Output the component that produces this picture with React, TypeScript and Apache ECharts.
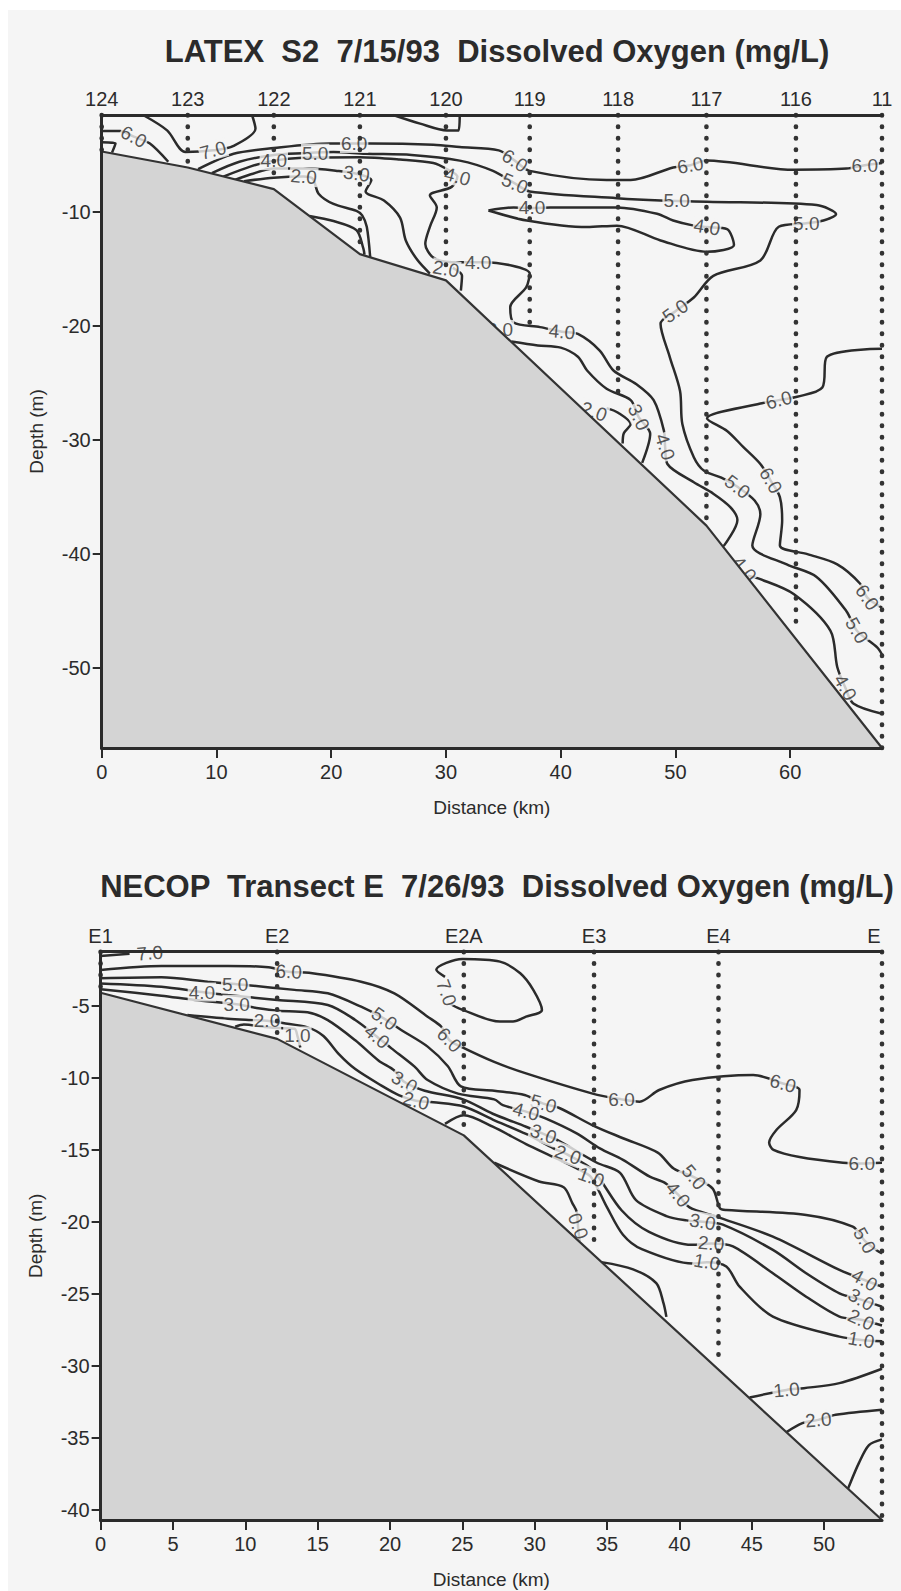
import React, { useEffect, useRef } from "react";
import * as echarts from "echarts";

const FONT = "'Liberation Sans', Arial, Helvetica, sans-serif";
const INK = "#2b2b2b";
const PAPER = "#f5f5f5";

// ---------------- LATEX S2 (top panel) ----------------
const latexTitle = "LATEX  S2  7/15/93  Dissolved Oxygen (mg/L)";
const latexXTicks = [0, 10, 20, 30, 40, 50, 60];
const latexYTicks = [-50, -40, -30, -20, -10];
const latexStationNames = ["124", "123", "122", "121", "120", "119", "118", "117", "116", "11"];
const latexStationKm = [0, 7.5, 15, 22.5, 30, 37.3, 45, 52.7, 60.5, 68];
const latexCastDepth = [-4.6, -5.8, -7.5, -13.2, -15.2, -20.0, -26.6, -37.0, -46.8, -57];
const latexFloor = [[0, -4.7], [7.5, -6.1], [15, -8], [22.5, -13.7], [30, -16], [52.7, -37.5], [68, -57]];

const t7a = [[3.6, -1.5], [5.7, -2.85], [7.3, -4.75], [9.7, -4.6], [11.5, -4.2], [13.4, -2.7], [13.1, -1.5]];
const t7b = [[25.4, -1.5], [27.75, -2.26], [30.1, -2.85], [31.1, -2.85], [31.2, -1.5]];
const t6a = [[0, -2.9], [1.6, -2.9], [2.8, -3.4], [4.2, -4.0], [5.8, -5.6]];
const t6 = [[8.4, -6.25], [11.5, -4.9], [15, -4.4], [19.9, -4.0], [21.4, -4.0], [23.4, -4.0], [28.9, -4.1], [31.2, -4.3], [34.6, -4.6], [36, -5.5], [37.3, -6.4], [44, -7.2], [46.1, -7.2], [49.8, -6.1], [51.3, -5.9], [52.7, -5.5], [60.3, -6.3], [64.9, -6.2], [66.5, -5.9], [68, -5.7]];
const t6b = [[68, -22.0], [63.2, -22.7], [62.8, -25.4], [60.6, -26.2], [59.0, -26.5], [57.4, -26.8], [52.75, -28.1], [54.5, -29.2], [55.9, -30.6], [57.4, -32.1], [58.3, -33.55], [59.1, -35.0], [59.3, -37.06], [59.1, -39.25], [61.5, -40.0], [64.1, -40.9], [66.1, -42.6], [66.7, -43.8], [68, -44.7]];
const t5 = [[9.6, -6.6], [12, -5.6], [15, -5.0], [17.5, -4.85], [20.2, -4.75], [23, -4.9], [27, -5.0], [31.2, -5.5], [34.1, -6.4], [36, -7.5], [37.3, -8.2], [44.9, -8.8], [48.7, -9.0], [52.75, -9.1], [62.3, -9.4], [64, -10.2], [62.9, -10.75], [61.4, -11.0], [59, -11.3], [57.4, -14.25], [53.3, -15.6], [51.6, -17.5], [50, -18.7], [48.7, -19.8], [49.5, -22.7], [50.4, -25.7], [50.6, -28.6], [51.6, -31.5], [52.5, -32.7], [54, -33.3], [55.4, -34.1], [56.9, -35.3], [57.4, -36.5], [56.7, -39.25], [59.7, -40.9], [62.3, -42], [64.9, -45], [65.8, -46.7], [67.6, -48.2], [68, -48.8]];
const t5b = [[0, -3.9], [1.2, -4.0], [0.9, -4.8]];
const t4a = [[10.6, -6.9], [13, -6.0], [15, -5.5], [17.5, -5.25], [22.5, -5.2], [26, -5.4], [28.9, -5.7], [30.2, -6.3], [31, -6.9], [30.5, -7.8], [28.6, -8.55], [29.2, -9.6], [28.6, -11.3], [28.2, -12.8], [28.9, -14.0], [30.5, -14.4], [31.8, -14.4], [33.4, -14.4], [37.3, -15.4], [37, -16.6], [35.6, -18.35], [35.9, -19.7], [38.2, -20.1], [40.1, -20.5], [41.5, -20.7], [43.4, -22.15], [44.6, -23.9], [46.6, -25.1], [48.1, -26.5], [49, -29.2], [49.1, -30.6], [49.3, -32.1], [51.6, -33.7], [53.3, -34.7], [54.8, -35.9], [55.4, -37], [54.2, -39.3]];
const t4b = [[33.7, -9.87], [35.9, -9.6], [37.5, -9.65], [39.1, -9.6], [44.9, -9.6], [48.4, -10.16], [49.8, -10.75], [51.6, -11.2], [52.75, -11.33], [54.5, -11.5], [55.1, -12.9], [52.75, -13.5], [48.7, -12.5], [44.9, -11.2], [42.3, -11.33], [37.05, -10.75], [33.7, -9.87]];
const t4c = [[56.3, -41.9], [57.4, -42.2], [60.3, -43.5], [63.5, -46.7], [64.1, -49.9], [64.8, -51.7], [65.5, -53.1], [68, -54]];
const t3 = [[11.6, -7.2], [13, -6.7], [15, -6.2], [18, -6.2], [20.5, -6.4], [22.2, -6.65], [23.5, -7.2], [23, -8.2], [24.6, -9.0], [26, -10.5], [26.5, -12.5], [27.5, -14.2], [28.6, -15.4]];
const t3b = [[35.7, -21.35], [38, -21.7], [40.0, -21.9], [41.5, -22.7], [42.3, -23.9], [44.0, -25.5], [46.1, -26.5], [46.8, -28.0], [47.8, -29.45], [47.1, -32.0]];
const t2 = [[12.4, -7.3], [15, -7.0], [17.6, -6.9], [18.4, -7.1], [18.9, -8.4], [20.2, -9.3], [22.2, -9.9], [22.7, -10.3], [23.1, -11.3], [23.4, -14.0]];
const t2b = [[30.6, -14.9], [31.4, -15.6], [31.3, -16.9]];
const t2d = [[44.0, -27.2], [45.0, -27.6], [46.1, -28.6], [45.5, -29.4], [45.4, -30.3]];
const t1a = [[18.1, -10.35], [20.2, -10.8], [22.2, -11.6], [22.8, -13.2], [22.9, -13.75]];
const latexLines = [t7a, t7b, t6a, t6, t6b, t5, t5b, t4a, t4b, t4c, t3, t3b, t2, t2b, t2d, t1a];

// [km, depth, text, angle]
const latexLabels = [
  [2.8, -3.4, "6.0", -28], [9.7, -4.6, "7.0", 15],
  [22.0, -4.0, "6.0", 0], [36, -5.5, "6.0", -33], [51.3, -5.9, "6.0", 10], [66.5, -5.9, "6.0", 0],
  [18.6, -4.85, "5.0", 0], [36, -7.5, "5.0", -23], [50.1, -9.0, "5.0", 0], [61.4, -11.0, "5.0", 0],
  [50.0, -18.7, "5.0", 35], [55.4, -34.1, "5.0", -37], [65.8, -46.7, "5.0", -60],
  [15, -5.5, "4.0", 0], [31, -6.9, "4.0", -15], [32.8, -14.4, "4.0", 0], [40.1, -20.5, "4.0", -5],
  [49.1, -30.6, "4.0", -72], [37.5, -9.65, "4.0", 0], [52.75, -11.33, "4.0", -10],
  [56.0, -41.3, "4.0", -50], [64.8, -51.7, "4.0", -60],
  [22.2, -6.65, "3.0", -8], [46.8, -28.0, "3.0", -65],
  [17.6, -6.9, "2.0", -5], [30.0, -15.0, "2.0", -10], [34.7, -20.3, "2.0", 0], [42.9, -27.5, "2.0", -20],
  [59.0, -26.5, "6.0", 15], [58.3, -33.55, "6.0", -60], [66.7, -43.8, "6.0", -55],
];

// ---------------- NECOP Transect E (bottom panel) ----------------
const necopTitle = "NECOP  Transect E  7/26/93  Dissolved Oxygen (mg/L)";
const necopXTicks = [0, 5, 10, 15, 20, 25, 30, 35, 40, 45, 50];
const necopYTicks = [-40, -35, -30, -25, -20, -15, -10, -5];
const necopStationNames = ["E1", "E2", "E2A", "E3", "E4", "E"];
const necopStationKm = [0, 12.2, 25.1, 34.1, 42.7, 54];
const necopCastDepth = [-4.0, -7.0, -13.6, -21.3, -29.6, -40.7];
const necopFloor = [[0, -4.1], [12.2, -7.3], [25.1, -14], [54, -40.7]];

const b7a = [[0, -1.55], [2.0, -1.4]];
const b7b = [[23.8, -3.0], [23.2, -2.5], [25.0, -1.75], [27.6, -1.94], [29.0, -2.75], [29.9, -3.9], [30.5, -5.3], [29.4, -5.76], [28.5, -6.1], [27.6, -6.1], [24.8, -5.2], [24.2, -4.9]];
const b6 = [[0, -2.52], [4.2, -2.24], [8.8, -2.24], [11.6, -2.33], [13, -2.64], [14.4, -2.71], [18, -3.33], [20.3, -4.14], [22.6, -5.76], [23.55, -6.46], [24.1, -7.38], [24.9, -7.84], [27.2, -8.9], [29.4, -9.7], [34.0, -11.1], [36, -11.5], [37.25, -11.66], [38.6, -10.85], [40.9, -10.16], [45.1, -9.81], [47.15, -10.4], [48.3, -10.85], [48.07, -12.24], [46.7, -13.63], [46.2, -14.5], [46.5, -15.0], [48.3, -15.5], [51.3, -15.9], [52.6, -15.95], [54, -15.9]];
const b5 = [[0, -3.1], [4.2, -3.03], [7.4, -3.33], [9.3, -3.5], [10, -3.56], [13.4, -3.9], [15.7, -4.14], [18, -5.07], [19.6, -5.9], [20.8, -6.7], [22.6, -7.84], [24, -9.2], [24.9, -10.6], [27.2, -10.9], [29.3, -11.2], [30.6, -11.8], [31.7, -12.1], [34, -13.3], [36.1, -14.2], [38.5, -15.2], [39.6, -16.3], [41.0, -16.9], [42.3, -17.7], [42.8, -19.06], [43.24, -19.18], [48.76, -19.52], [51.98, -20.34], [52.8, -21.3], [53.6, -21.95], [54, -22.2]];
const b4 = [[0, -3.45], [4.2, -3.68], [7.0, -4.05], [8.8, -4.26], [12.2, -4.6], [15.7, -4.95], [17.6, -5.99], [19.1, -7.15], [20.1, -7.96], [21.7, -9.23], [22.6, -10.16], [24.7, -11.1], [27.2, -11.5], [27.8, -11.9], [29.4, -12.35], [30.7, -12.8], [32.9, -13.86], [34.5, -14.9], [36.1, -15.7], [37.95, -16.87], [39.0, -17.3], [39.9, -18.1], [40.7, -19.0], [42.55, -19.64], [46.46, -21.03], [51.06, -23.34], [52.79, -24.04], [54, -24.5]];
const b3 = [[0, -3.85], [4.2, -4.3], [6.5, -4.6], [9.4, -4.9], [10.9, -5.18], [12.2, -5.35], [14.3, -5.45], [15.7, -6.0], [17.6, -7.4], [19.2, -8.8], [20.3, -9.5], [21.0, -10.3], [22.4, -10.9], [25.05, -11.5], [27.1, -12.5], [29.4, -13.4], [30.6, -13.9], [31.7, -14.4], [34.3, -15.9], [35.9, -16.6], [37.0, -18.5], [39.1, -19.6], [40.5, -19.9], [41.6, -20.0], [43.0, -20.2], [46.46, -21.95], [48.76, -23.57], [51.06, -24.96], [52.56, -25.4], [54, -25.9]];
const b2 = [[6.0, -5.65], [8.8, -5.9], [10.7, -6.0], [11.5, -6.05], [12.6, -6.2], [14.3, -6.5], [15.4, -7.1], [16.5, -8.4], [17.6, -9.4], [19.5, -10.6], [20.6, -11.2], [21.8, -11.6], [23, -11.7], [25.1, -12.0], [27.1, -12.9], [29.4, -13.9], [31.3, -14.9], [32.3, -15.35], [34.0, -16.4], [36.0, -19.2], [37.9, -20.7], [40.9, -21.6], [42.2, -21.5], [43.7, -21.7], [46.46, -23.57], [48.76, -25.2], [51.06, -26.58], [52.56, -26.8], [54, -27.2]];
const b2b = [[47.4, -34.6], [48.5, -33.98], [49.6, -33.75], [50.8, -33.4], [54, -33.05]];
const b1a = [[9.3, -6.45], [9.9, -6.3], [11.6, -6.5], [12.2, -6.55], [13.4, -6.6], [13.6, -7.1], [13.8, -7.9]];
const b1b = [[23.8, -13.2], [25.1, -12.6], [27.1, -13.4], [29.4, -14.6], [31.5, -15.6], [33.1, -16.4], [33.9, -16.9], [35.0, -19.0], [36.1, -20.9], [37.4, -21.9], [40.9, -22.9], [41.9, -22.8], [43.24, -23.1], [44.16, -24.5], [46.46, -26.58], [51.06, -27.97], [52.56, -28.2], [54, -28.3]];
const b1c = [[44.85, -32.2], [47.4, -31.67], [48.6, -31.55], [51.06, -31.2], [54, -30.2]];
const b0 = [[27.2, -15.9], [30.3, -17.2], [32.0, -17.6], [32.6, -18.7], [32.9, -19.3], [33.0, -20.4], [33.1, -21.3]];
const b0b = [[34.6, -22.8], [36.8, -23.3], [38.4, -24.26], [38.9, -25.65], [39.1, -26.6]];
const b3b = [[54, -35.1], [53.1, -35.5], [52.4, -36.75], [51.7, -38.4], [51.6, -38.7]];
const necopLines = [b7a, b7b, b6, b5, b4, b3, b2, b2b, b1a, b1b, b1c, b0, b0b, b3b];

const necopLabels = [
  [3.4, -1.35, "7.0", 5], [23.9, -4.1, "7.0", -70],
  [13, -2.64, "6.0", -3], [24.1, -7.38, "6.0", -45], [36, -11.5, "6.0", 0], [47.15, -10.4, "6.0", -15], [52.6, -15.95, "6.0", 0],
  [9.3, -3.5, "5.0", 0], [19.6, -5.9, "5.0", -35], [30.6, -11.8, "5.0", -15], [41.0, -16.9, "5.0", -50], [52.8, -21.3, "5.0", -60],
  [7.0, -4.05, "4.0", 0], [19.1, -7.15, "4.0", -40], [29.4, -12.35, "4.0", -15], [39.9, -18.1, "4.0", -50], [52.79, -24.04, "4.0", -30],
  [9.4, -4.9, "3.0", 0], [21.0, -10.3, "3.0", -30], [30.6, -13.9, "3.0", -20], [41.6, -20.0, "3.0", -10], [52.56, -25.4, "3.0", -30],
  [11.5, -6.05, "2.0", 0], [21.8, -11.6, "2.0", -15], [32.3, -15.35, "2.0", -20], [42.2, -21.5, "2.0", -5], [52.56, -26.8, "2.0", -25], [49.6, -33.75, "2.0", 5],
  [13.6, -7.1, "1.0", 0], [33.9, -16.9, "1.0", -20], [41.9, -22.8, "1.0", -10], [52.56, -28.2, "1.0", -10], [47.4, -31.67, "1.0", 5],
  [33.0, -20.3, "0.0", -70],
];

function panelSeries(xi, yi, lines, labels, floor, stationKm, cast, topDepth) {
  const out = [];
  lines.forEach((pts) => {
    out.push({
      type: "line", xAxisIndex: xi, yAxisIndex: yi, data: pts, symbol: "none",
      smooth: 0.3, lineStyle: { color: INK, width: 2.5 }, z: 2, silent: true,
    });
  });
  out.push({
    type: "scatter", xAxisIndex: xi, yAxisIndex: yi, symbolSize: 1, z: 3, silent: true,
    itemStyle: { color: "rgba(0,0,0,0)" },
    label: {
      show: true, position: "inside", fontSize: 19, color: INK, fontFamily: FONT,
      backgroundColor: PAPER, padding: [0, 1],
    },
    data: labels.map(([x, y, t, r]) => ({ value: [x, y], label: { formatter: t, rotate: r } })),
  });
  out.push({
    type: "line", xAxisIndex: xi, yAxisIndex: yi, data: floor, symbol: "none", z: 4, silent: true,
    lineStyle: { color: "#333333", width: 2.2 },
    areaStyle: { color: "#d4d4d4", opacity: 1, origin: "start" },
  });
  stationKm.forEach((x, i) => {
    out.push({
      type: "line", xAxisIndex: xi, yAxisIndex: yi, data: [[x, topDepth], [x, cast[i]]],
      symbol: "none", z: 5, silent: true, clip: false,
      lineStyle: { color: "#333333", width: 4.6, type: [0.5, 11], cap: "round" },
    });
  });
  return out;
}

function bottomX(grid, min, max, ticks) {
  return {
    gridIndex: grid, type: "value", min, max, position: "bottom", z: 10,
    axisLine: { show: true, lineStyle: { color: INK, width: 3 } },
    axisTick: { show: true, length: 10, customValues: ticks, lineStyle: { color: INK, width: 2 } },
    axisLabel: { show: true, customValues: ticks, fontSize: 20, color: INK, fontFamily: FONT, margin: 14 },
    splitLine: { show: false },
    name: "Distance (km)", nameLocation: "middle", nameGap: 50,
    nameTextStyle: { fontSize: 19, color: INK, fontFamily: FONT },
  };
}
function topX(grid, min, max, km, names, shiftLast) {
  return {
    gridIndex: grid, type: "value", min, max, position: "top", z: 10,
    axisLine: { show: true, lineStyle: { color: INK, width: 3 } },
    axisTick: { show: false },
    axisLabel: {
      show: true, customValues: km, fontSize: 20, color: INK, fontFamily: FONT, margin: 6,
      formatter: (v) => {
        const i = km.findIndex((s) => Math.abs(s - v) < 1e-6);
        const n = i >= 0 ? names[i] : "";
        return shiftLast && i === km.length - 1 ? "{s|" + n + "}" : n;
      },
      rich: { s: { fontSize: 20, color: INK, fontFamily: FONT, padding: [0, 16, 0, 0] } },
    },
    splitLine: { show: false },
  };
}
function leftY(grid, min, max, ticks) {
  return {
    gridIndex: grid, type: "value", min, max, position: "left", z: 10,
    axisLine: { show: true, lineStyle: { color: INK, width: 3 } },
    axisTick: { show: true, length: 9, customValues: ticks, lineStyle: { color: INK, width: 2 } },
    axisLabel: { show: true, customValues: ticks, fontSize: 20, color: INK, fontFamily: FONT, margin: 11 },
    splitLine: { show: false },
    name: "Depth (m)", nameLocation: "middle", nameGap: 56, nameRotate: 90,
    nameTextStyle: { fontSize: 19, color: INK, fontFamily: FONT },
  };
}
function rightY(grid, min, max) {
  return {
    gridIndex: grid, type: "value", min, max, position: "right", z: 10,
    axisLine: { show: true, lineStyle: { color: INK, width: 3 } },
    axisTick: { show: false }, axisLabel: { show: false }, splitLine: { show: false },
  };
}

export default function App() {
  const ref = useRef(null);
  useEffect(() => {
    const chart = echarts.init(ref.current, null, { renderer: "svg" });
    const option = {
      animation: false,
      backgroundColor: PAPER,
      textStyle: { fontFamily: FONT },
      grid: [
        { left: 93.7, top: 105, width: 780.3, height: 633 },
        { left: 92.6, top: 941.7, width: 781.4, height: 568.3 },
      ],
      xAxis: [
        bottomX(0, 0, 68, latexXTicks),
        topX(0, 0, 68, latexStationKm, latexStationNames, false),
        bottomX(1, 0, 54, necopXTicks),
        topX(1, 0, 54, necopStationKm, necopStationNames, true),
      ],
      yAxis: [
        leftY(0, -57, -1.5, latexYTicks),
        rightY(0, -57, -1.5),
        leftY(1, -40.7, -1.25, necopYTicks),
        rightY(1, -40.7, -1.25),
      ],
      graphic: [
        { type: "text", x: 489, y: 41, silent: true,
          style: { text: latexTitle, fontSize: 31, fontWeight: "bold", fontFamily: FONT, fill: INK, align: "center", verticalAlign: "middle" } },
        { type: "text", x: 489, y: 876, silent: true,
          style: { text: necopTitle, fontSize: 31, fontWeight: "bold", fontFamily: FONT, fill: INK, align: "center", verticalAlign: "middle" } },
      ],
      series: [
        ...panelSeries(0, 0, latexLines, latexLabels, latexFloor, latexStationKm, latexCastDepth, -1.5),
        ...panelSeries(2, 2, necopLines, necopLabels, necopFloor, necopStationKm, necopCastDepth, -1.25),
      ],
    };
    chart.setOption(option);
    return () => chart.dispose();
  }, []);
  return (
    <div
      ref={ref}
      style={{ position: "absolute", left: 8, top: 10, width: 893, height: 1581, background: PAPER }}
    />
  );
}
